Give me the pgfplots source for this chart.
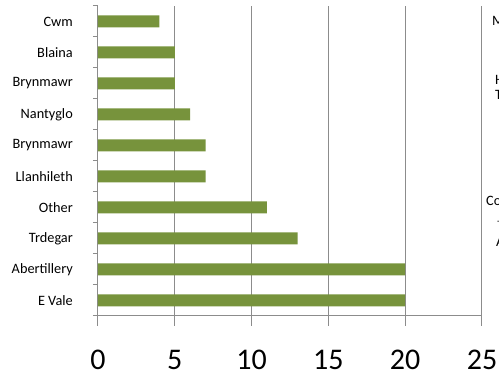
\documentclass[border=0pt]{standalone}
\usepackage{pgfplots}
\pgfplotsset{compat=1.18}
\usepackage{fontspec}
\setmainfont{Carlito}

\definecolor{barolive}{HTML}{77933C}
\definecolor{gridgray}{HTML}{8C8C8C}

\begin{document}
\begin{tikzpicture}
\useasboundingbox (0,0) rectangle (499pt,377pt);
\clip (0,0) rectangle (499pt,377pt);
\begin{axis}[
  at={(98pt,61pt)}, anchor=south west,
  scale only axis, width=384pt, height=310pt,
  xbar, bar width=12pt,
  xmin=0, xmax=25, ymin=-0.5, ymax=9.5,
  axis x line*=bottom, axis y line*=left,
  axis line style={gridgray, line width=1pt},
  xtick={0,5,...,25},
  xmajorgrids, major grid style={gridgray, line width=1pt},
  x tick style={gridgray, line width=1pt},
  xtick align=outside, major tick length=10pt,
  /pgf/number format/assume math mode=true,
  xticklabel style={font=\fontsize{30}{34}\selectfont, inner sep=0pt, anchor=north, yshift=-24pt},
  ytick={0,...,9},
  yticklabels={E Vale,Abertillery,Trdegar,Other,Llanhileth,Brynmawr,Nantyglo,Brynmawr,Blaina,Cwm},
  y tick style={draw=none},
  yticklabel style={font=\fontsize{14.3}{17}\selectfont, inner sep=0pt, anchor=east, xshift=-15pt},
  extra y ticks={-0.5,0.5,...,9.5},
  extra y tick labels={},
  extra y tick style={grid=none, ytick align=outside, major tick length=5pt,
    y tick style={draw=gridgray, line width=1pt}},
]
\addplot[fill=barolive, draw=none] coordinates {
  (20,0) (20,1) (13,2) (11,3) (7,4) (7,5) (6,6) (5,7) (5,8) (4,9)
};
\end{axis}
% fragments of the neighbouring text block at the right edge
\begin{scope}[every node/.style={anchor=west, inner sep=0pt, font=\fontsize{14.3}{17}\selectfont}]
\node at (492pt,356pt) {M};
\node at (495pt,297pt) {H};
\node at (495pt,282pt) {T};
\node at (486pt,176pt) {Co};
\node[font=\fontsize{10}{12}\selectfont] at (497pt,154pt) {-};
\node at (496pt,135pt) {A};
\end{scope}
\end{tikzpicture}
\end{document}
